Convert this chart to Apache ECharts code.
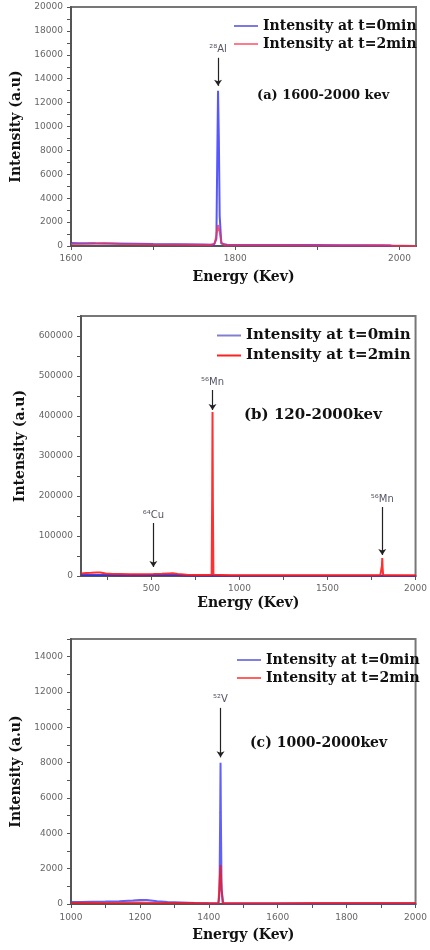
<!DOCTYPE html>
<html>
<head>
<meta charset="utf-8">
<script src="https://cdn.jsdelivr.net/npm/echarts@6/dist/echarts.min.js"></script>
<style>
html,body{margin:0;padding:0;background:#fff;}
#c{width:430px;height:950px;}
</style>
</head>
<body>
<div id="c"></div>
<script>
// ---- Panel (a) 1600-2000 keV ----
const aEnergy0 = [1600,1610,1630,1650,1680,1700,1730,1760,1774,1777,1778,1779,1780,1781,1783,1790,1820,1850,1880,1900,1930,1960,1990];
const aInt0    = [260,240,220,210,180,160,140,120,110,600,7000,13000,9000,2500,200,100,90,90,80,80,70,60,40];
const aEnergy2 = [1600,1620,1640,1660,1700,1740,1770,1775,1777,1779,1781,1783,1787,1800,1850,1900,1950,1980,1995,2005,2020];
const aInt2    = [160,180,220,170,120,100,80,200,900,1750,1200,300,70,60,60,50,50,60,30,20,0];

// ---- Panel (b) 120-2000 keV ----
const bEnergy0 = [100,140,180,220,260,300,350,400,450,500,511,550,600,650,690,750,846,900,1000,1200,1400,1600,1811,2000];
const bInt0    = [2500,2600,2400,2200,2300,2000,2100,2200,2000,2300,2600,2400,2200,2500,1500,900,1200,700,600,500,400,350,500,300];
const bEnergy2 = [100,130,160,190,210,240,280,320,380,440,511,560,600,620,650,700,760,830,842,845,847,849,852,860,950,1100,1300,1500,1700,1800,1806,1809,1811,1813,1816,1850,1950,2000];
const bInt2    = [6000,7500,8000,9000,8500,6500,5000,5000,4500,4500,5000,5500,6500,7000,5000,3000,2500,2500,3000,200000,410000,180000,3000,2500,2000,2000,2000,2000,2000,2000,2500,25000,45000,20000,2500,2000,2000,2000];

// ---- Panel (c) 1000-2000 keV ----
const cEnergy0 = [1000,1030,1060,1100,1140,1180,1200,1220,1250,1280,1320,1360,1400,1428,1431,1433,1434,1435,1437,1442,1480,1550,1700,1850,2000];
const cInt0    = [110,120,130,140,160,200,230,220,160,120,90,60,40,30,600,5200,8000,5000,800,40,30,30,30,30,30];
const cEnergy2 = [1000,1050,1100,1150,1200,1250,1300,1350,1400,1428,1432,1434,1436,1440,1500,1600,1700,1800,1900,2000];
const cInt2    = [60,70,60,70,80,60,50,50,40,40,1500,2200,1200,40,40,40,50,50,50,50];

// ---- Labels ----
const seriesNames = ['Intensity at t=0min','Intensity at t=2min'];
const panelTitles = ['(a) 1600-2000 kev','(b) 120-2000kev','(c) 1000-2000kev'];
const xName = 'Energy (Kev)';
const yName = 'Intensity (a.u)';
const bXLabels = [500,1000,1500,2000];
const bXTicks = [250,500,750,1000,1250,1500,1750,2000];

// annotations: [name, energy, arrow start (label side), arrow end]
const aNotes = [['²⁸Al',1779,15750,13400]];
const bNotes = [['⁵⁶Mn',847,465000,415000],['⁶⁴Cu',511,132500,22500],['⁵⁶Mn',1811,172500,52500]];
const cNotes = [['⁵²V',1434,11100,8300]];

const pairs = (xs, ys) => xs.map((x,i)=>[x, ys[i]]);

const serifBold = {fontFamily:'DejaVu Serif', fontWeight:'bold', color:'#111'};
const tickLabel = {fontFamily:'DejaVu Sans', fontSize:9, color:'#666'};

function marks(notes){
  return {
    silent:true,
    symbol:['none','arrow'],
    symbolSize:6,
    lineStyle:{color:'#222', width:1.2, type:'solid'},
    label:{show:true, position:'start', formatter:'{b}', distance:3,
           fontFamily:'DejaVu Sans', fontSize:10, color:'#556'},
    data: notes.map(n => [{name:n[0], coord:[n[1], n[2]]}, {coord:[n[1], n[3]]}])
  };
}

function lineSeries(idx, name, data, color, width, opacity, notes){
  const s = {
    type:'line', name:name, xAxisIndex:idx, yAxisIndex:idx,
    data:data, symbol:'none', showSymbol:false,
    lineStyle:{color:color, width:width, opacity:opacity},
    itemStyle:{color:color},
    emphasis:{disabled:true}
  };
  if (notes) s.markLine = marks(notes);
  return s;
}

function yAxis(idx, max, interval, labelStep, gap){
  return {
    type:'value', gridIndex:idx, min:0, max:max, interval:interval,
    name:yName, nameLocation:'middle', nameRotate:90, nameGap:gap,
    nameTextStyle:Object.assign({fontSize:14}, serifBold),
    axisLine:{show:true, lineStyle:{color:'#555', width:2}},
    axisTick:{show:true, length:4, lineStyle:{color:'#555'}},
    axisLabel:Object.assign({margin:8, formatter: v => (v % labelStep === 0 ? String(v) : '')}, tickLabel),
    splitLine:{show:false}
  };
}

function legend(left, top, gap, size, c0, c2){
  return {
    left:left, top:top, orient:'vertical', itemGap:gap,
    icon:'rect', itemWidth:24, itemHeight:2,
    textStyle:Object.assign({fontSize:size, padding:[0,0,0,0]}, serifBold),
    selectedMode:false,
    data:[{name:seriesNames[0], itemStyle:{color:c0}}, {name:seriesNames[1], itemStyle:{color:c2}}]
  };
}

const grids = [
  {left:71, top:7, width:345, height:239},
  {left:81, top:316, width:337, height:260},
  {left:71, top:639, width:351, height:265}
].map(g => Object.assign(g, {show:true, borderColor:'#777', borderWidth:2, backgroundColor:'transparent'}));

const option = {
  animation:false,
  backgroundColor:'#fff',
  grid:grids,
  title:[
    {text:panelTitles[0], left:252, top:84, textStyle:Object.assign({fontSize:13}, serifBold)},
    {text:panelTitles[1], left:239, top:403, textStyle:Object.assign({fontSize:15}, serifBold)},
    {text:panelTitles[2], left:245, top:731, textStyle:Object.assign({fontSize:14}, serifBold)}
  ],
  legend:[
    legend(229, 14, 4, 14, '#7a7ae0', '#ff7a8a'),
    legend(212, 323, 5, 15, '#8080d0', '#ff2020'),
    legend(232, 648, 4, 14, '#8080e0', '#ff6060')
  ],
  xAxis:[
    {type:'value', gridIndex:0, min:1600, max:2020, interval:100,
     name:xName, nameLocation:'middle', nameGap:24,
     nameTextStyle:Object.assign({fontSize:14}, serifBold),
     axisLine:{show:true, lineStyle:{color:'#555', width:2}},
     axisTick:{show:true, length:4, lineStyle:{color:'#555'}},
     axisLabel:Object.assign({margin:8, showMaxLabel:false, formatter: v => (v % 200 === 0 ? String(v) : '')}, tickLabel),
     splitLine:{show:false}},
    {type:'value', gridIndex:1, min:100, max:2000,
     name:xName, nameLocation:'middle', nameGap:20,
     nameTextStyle:Object.assign({fontSize:14}, serifBold),
     axisLine:{show:true, lineStyle:{color:'#555', width:2}},
     axisTick:{show:true, length:4, lineStyle:{color:'#555'}, customValues:bXTicks},
     axisLabel:Object.assign({margin:8, customValues:bXLabels, formatter: v => String(v)}, tickLabel),
     splitLine:{show:false}},
    {type:'value', gridIndex:2, min:1000, max:2000, interval:100,
     name:xName, nameLocation:'middle', nameGap:24,
     nameTextStyle:Object.assign({fontSize:14}, serifBold),
     axisLine:{show:true, lineStyle:{color:'#555', width:2}},
     axisTick:{show:true, length:4, lineStyle:{color:'#555'}},
     axisLabel:Object.assign({margin:9, formatter: v => (v % 200 === 0 ? String(v) : '')}, tickLabel),
     splitLine:{show:false}}
  ],
  yAxis:[
    yAxis(0, 20000, 1000, 2000, 36),
    yAxis(1, 650000, 50000, 100000, 45),
    yAxis(2, 15000, 1000, 2000, 35)
  ],
  series:[
    lineSeries(0, seriesNames[0], pairs(aEnergy0, aInt0), '#3a3aff', 2, 0.85, null),
    lineSeries(0, seriesNames[1], pairs(aEnergy2, aInt2), '#f0305a', 2, 0.8, aNotes),
    lineSeries(1, seriesNames[0], pairs(bEnergy0, bInt0), '#3030e0', 2, 0.9, null),
    lineSeries(1, seriesNames[1], pairs(bEnergy2, bInt2), '#ff1a1a', 2, 0.9, bNotes),
    lineSeries(2, seriesNames[0], pairs(cEnergy0, cInt0), '#4444ff', 2, 0.85, null),
    lineSeries(2, seriesNames[1], pairs(cEnergy2, cInt2), '#ee1c24', 2, 0.85, cNotes)
  ]
};

const chart = echarts.init(document.getElementById('c'), null, {renderer:'canvas'});
chart.setOption(option);
</script>
</body>
</html>
